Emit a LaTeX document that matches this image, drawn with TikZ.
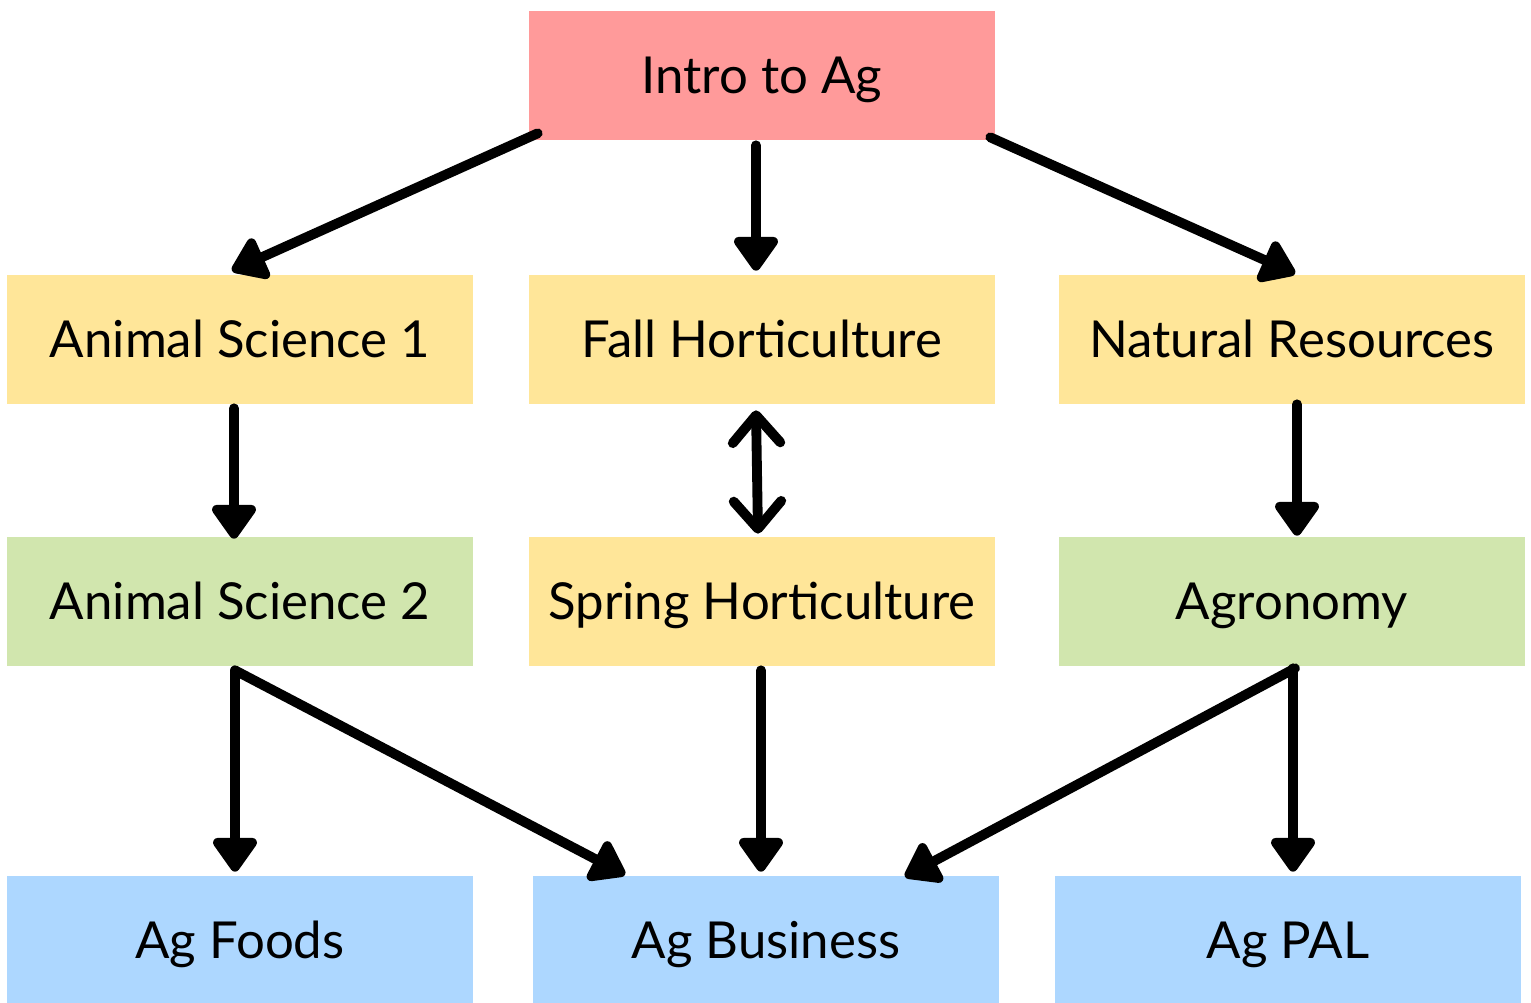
\documentclass[tikz,border=0pt]{standalone}
\usepackage{fontspec}
\setmainfont{Lato}
\usepackage{tikz}
\usetikzlibrary{arrows.meta, positioning, calc}
\definecolor{Salmon}{HTML}{FF9A9A}
\definecolor{Butter}{HTML}{FFE699}
\definecolor{Sage}{HTML}{D1E6AE}
\definecolor{Sky}{HTML}{ADD7FF}

\begin{document}
\begin{tikzpicture}[x=0.02cm, y=-0.02cm,
    course/.style={rectangle, minimum width=9.32cm, minimum height=2.58cm,
                   inner sep=0pt, text height=20.9pt, text depth=0pt,
                   font=\fontsize{29}{34}\selectfont},
    link/.style={line width=5.6pt, line cap=round,
                 -{Triangle[round, length=0.75cm, width=1.0cm]}},
    both/.style={line width=5.6pt, line cap=round,
                 {Straight Barb[round, length=0.55cm, width=0.95cm]}-{Straight Barb[round, length=0.55cm, width=0.95cm]}}]
    \useasboundingbox (0,0) rectangle (1531,1003);

    % Top course
    \node[course, fill=Salmon] (intro) at (762,75.5) {Intro to Ag};

    % Second row
    \node[course, fill=Butter] (anim1) at (240,339.5) {Animal Science 1};
    \node[course, fill=Butter] (fall) at (762,339.5) {Fall Horticulture};
    \node[course, fill=Butter] (natres) at (1292,339.5) {Natural Resources};

    % Third row
    \node[course, fill=Sage] (anim2) at (240,601.5) {Animal Science 2};
    \node[course, fill=Butter] (spring) at (762,601.5) {Spring Horticulture};
    \node[course, fill=Sage] (agro) at (1292,601.5) {Agronomy};

    % Bottom row
    \node[course, fill=Sky] (foods) at (240,940.5) {Ag Foods};
    \node[course, fill=Sky] (business) at (766,940.5) {Ag Business};
    \node[course, fill=Sky] (pal) at (1288,940.5) {Ag PAL};

    % Arrows
    \draw[link] ([shift={(9,-7)}]intro.south west) -- ([shift={(-8,-4)}]anim1.north);
    \draw[link] ([shift={(-6,5)}]intro.south) -- ([shift={(-6,-4)}]fall.north);
    \draw[link] ([shift={(-5,-3)}]intro.south east) -- ([shift={(3,-1)}]natres.north);
    \draw[link] ([shift={(-6,4)}]anim1.south) -- ([shift={(-6,2)}]anim2.north);
    \draw[both] ([shift={(-6,6)}]fall.south) -- ([shift={(-4,-3)}]spring.north);
    \draw[link] ([shift={(5,0)}]natres.south) -- ([shift={(5,-1)}]agro.north);
    \draw[link] ([shift={(-5,4)}]anim2.south) -- ([shift={(-5,-4)}]foods.north);
    \draw[link] ([shift={(-5,4)}]anim2.south) -- ([shift={(-141,-1)}]business.north);
    \draw[link] ([shift={(-1,4)}]spring.south) -- ([shift={(-5,-4)}]business.north);
    \draw[link] ([shift={(3,2)}]agro.south) -- ([shift={(139,1)}]business.north);
    \draw[link] ([shift={(1,2)}]agro.south) -- ([shift={(5,-4)}]pal.north);
\end{tikzpicture}
\end{document}
